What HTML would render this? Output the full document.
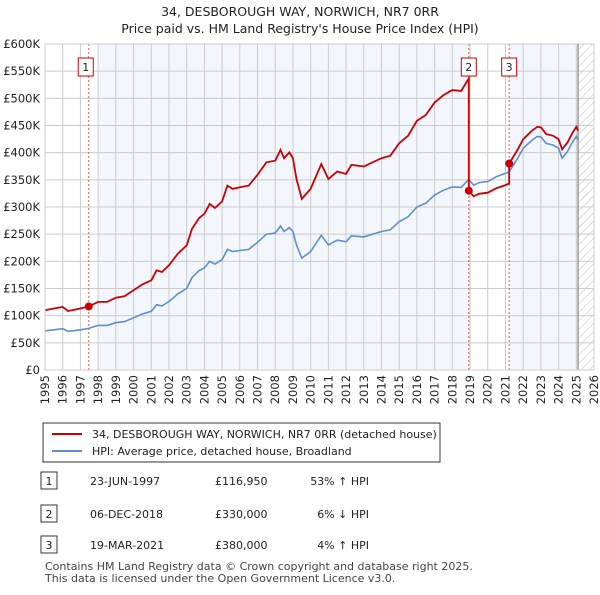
<!DOCTYPE html>
<html><head><meta charset="utf-8"><style>
body{margin:0;background:#fff;font-family:"Liberation Sans","DejaVu Sans",sans-serif;}
svg text{font-family:"DejaVu Sans","Liberation Sans",sans-serif;}
</style></head><body>
<svg id="c" width="600" height="590" xmlns="http://www.w3.org/2000/svg">
<defs><pattern id="hatch" width="6" height="6" patternUnits="userSpaceOnUse" patternTransform="rotate(45)"><line x1="0" y1="0" x2="0" y2="6" stroke="#bbb" stroke-width="1"/></pattern></defs>
<text x="300" y="16" text-anchor="middle" font-size="12.5" fill="#222">34, DESBOROUGH WAY, NORWICH, NR7 0RR</text>
<text x="300" y="33" text-anchor="middle" font-size="12.5" fill="#222">Price paid vs. HM Land Registry's House Price Index (HPI)</text>
<g id="plot"></g>
<g>
<rect x="43" y="423" width="397" height="39" fill="#fff" stroke="#333" stroke-width="1"/>
<line x1="52" y1="434" x2="82" y2="434" stroke="#cc0000" stroke-width="2"/>
<text x="92" y="438" font-size="11" fill="#222">34, DESBOROUGH WAY, NORWICH, NR7 0RR (detached house)</text>
<line x1="52" y1="451" x2="82" y2="451" stroke="#5b8fd4" stroke-width="2"/>
<text x="92" y="455" font-size="11" fill="#222">HPI: Average price, detached house, Broadland</text>
</g>
<g id="table" font-size="11" fill="#222"></g>
<text x="45" y="570" font-size="11" fill="#444">Contains HM Land Registry data © Crown copyright and database right 2025.</text>
<text x="45" y="582" font-size="11" fill="#444">This data is licensed under the Open Government Licence v3.0.</text>
</svg>
<script>
const hpiYears=[1995,1995.5,1996,1996.3,1997,1997.47,1998,1998.5,1999,1999.5,2000,2000.5,2001,2001.3,2001.6,2002,2002.5,2003,2003.3,2003.7,2004,2004.3,2004.6,2005,2005.3,2005.6,2006,2006.5,2007,2007.5,2008,2008.3,2008.5,2008.8,2009,2009.2,2009.5,2010,2010.6,2011,2011.5,2012,2012.3,2013,2013.5,2014,2014.5,2015,2015.5,2016,2016.5,2017,2017.5,2018,2018.5,2018.93,2019.2,2019.5,2020,2020.5,2021,2021.21,2021.7,2022,2022.5,2022.8,2023,2023.3,2023.7,2024,2024.2,2024.5,2024.8,2025,2025.1];
const hpiValues=[72,74,76,71,74,76.5,82,82,87,89,96,103,108,120,118,126,140,150,170,183,188,200,195,203,222,218,220,222,235,250,252,265,255,262,255,230,206,218,248,230,239,236,247,245,250,255,258,273,282,300,307,322,331,337,336,351,340,345,347,356,362,365,390,408,423,430,429,417,414,408,390,402,420,430,423];
const saleLabels=["1","2","3"];
const saleYears=[1997.47,2018.93,2021.21];
const salePrices=[116.95,330,380];
const saleDates=["23-JUN-1997","06-DEC-2018","19-MAR-2021"];
const salePriceText=["£116,950","£330,000","£380,000"];
const saleHpiText=["53% ↑ HPI","6% ↓ HPI","4% ↑ HPI"];
const yTicks=[0,50,100,150,200,250,300,350,400,450,500,550,600];
const xTicks=[];for(let y=1995;y<=2026;y++)xTicks.push(y);
const X0=45,X1=594,Y0=370,Y1=44;
const xs=y=>X0+(y-1995)/(2026-1995)*(X1-X0);
const ys=v=>Y0-v/600*(Y0-Y1);
const NS="http://www.w3.org/2000/svg";
function mk(p,t,a){const e=document.createElementNS(NS,t);for(const k in a)e.setAttribute(k,a[k]);p.appendChild(e);return e;}
const g=document.getElementById('plot');
const dataEnd=2025.1;
let e;
e=mk(g,'rect',{x:xs(1998),y:Y1,width:xs(saleYears[1])-xs(1998),height:Y0-Y1,fill:'#f3f6fd'});

e=mk(g,'rect',{x:xs(saleYears[2]),y:Y1,width:xs(dataEnd)-xs(saleYears[2]),height:Y0-Y1,fill:'#f3f6fd'});

e=mk(g,'rect',{x:xs(dataEnd),y:Y1,width:X1-xs(dataEnd),height:Y0-Y1,fill:'url(#hatch)'});

yTicks.forEach(v=>{mk(g,'line',{x1:X0,x2:X1,y1:ys(v),y2:ys(v),stroke:'#ccc','stroke-width':1});
 e=mk(g,'text',{x:40,y:ys(v)+4,'text-anchor':'end','font-size':11.5,fill:'#222'});e.textContent=v==0?'£0':'£'+v+'K';
 });
xTicks.forEach(y=>{mk(g,'line',{x1:xs(y),x2:xs(y),y1:Y1,y2:Y0,stroke:'#ccc','stroke-width':1});
 e=mk(g,'text',{x:0,y:0,'text-anchor':'end','font-size':11.5,fill:'#222',transform:`translate(${xs(y)+4},${Y0+5}) rotate(-90)`});e.textContent=y;
 });
mk(g,'line',{x1:xs(dataEnd),x2:xs(dataEnd),y1:Y1,y2:Y0,stroke:'#888','stroke-width':1.2});
saleYears.forEach((sy,i)=>{mk(g,'line',{x1:xs(sy),x2:xs(sy),y1:Y1,y2:Y0,stroke:'#e55','stroke-width':1,'stroke-dasharray':'2,2'});});
function hpiAt(t){for(let i=1;i<hpiYears.length;i++)if(t<=hpiYears[i]){const f=(t-hpiYears[i-1])/(hpiYears[i]-hpiYears[i-1]);return hpiValues[i-1]+f*(hpiValues[i]-hpiValues[i-1]);}return hpiValues[hpiValues.length-1];}
let bp='';hpiYears.forEach((y,i)=>{bp+=(i?'L':'M')+xs(y).toFixed(1)+','+ys(hpiValues[i]).toFixed(1);});
e=mk(g,'path',{d:bp,fill:'none',stroke:'#5b8fd4','stroke-width':1.6});

const ratios=saleYears.map((s,i)=>salePrices[i]/hpiAt(s));
let rp='';hpiYears.forEach((y,i)=>{let k=0;for(let j=0;j<saleYears.length;j++)if(y>=saleYears[j]-1e-6)k=j;
 if(i>0&&k>0&&hpiYears[i-1]<saleYears[k]-1e-6){rp+='L'+xs(saleYears[k]).toFixed(1)+','+ys(hpiAt(saleYears[k])*ratios[k-1]).toFixed(1);}
 rp+=(i?'L':'M')+xs(y).toFixed(1)+','+ys(hpiValues[i]*ratios[k]).toFixed(1);});
e=mk(g,'path',{d:rp,fill:'none',stroke:'#cc0000','stroke-width':1.8});

saleYears.forEach((sy,i)=>{
 e=mk(g,'circle',{cx:xs(sy),cy:ys(salePrices[i]),r:4,fill:'#cc0000'});
 
 const bx=xs(sy)-(i==0?3:0);
 mk(g,'rect',{x:bx-7.5,y:58,width:15,height:18,fill:'#fff',stroke:'#cc0000','stroke-width':1});
 e=mk(g,'text',{x:bx,y:71,'text-anchor':'middle','font-size':11,fill:'#222'});e.textContent=saleLabels[i];
 });
mk(g,'rect',{x:X0,y:Y1,width:X1-X0,height:Y0-Y1,fill:'none',stroke:'#ccc','stroke-width':1});
const t=document.getElementById('table');const rowY=[484,517,548];
saleLabels.forEach((l,i)=>{const y=rowY[i];
 mk(t,'rect',{x:41,y:y-12,width:16,height:17,fill:'#fff',stroke:'#333','stroke-width':1});
 e=mk(t,'text',{x:49,y:y+1,'text-anchor':'middle','font-size':11});e.textContent=l;
 
 e=mk(t,'text',{x:90,y:y+1,'font-size':11});e.textContent=saleDates[i];
 
 e=mk(t,'text',{x:215,y:y+1,'font-size':11});e.textContent=salePriceText[i];
 
 e=mk(t,'text',{x:369,y:y+1,'text-anchor':'end','font-size':11});e.textContent=saleHpiText[i];
 });
</script>
</body></html>
